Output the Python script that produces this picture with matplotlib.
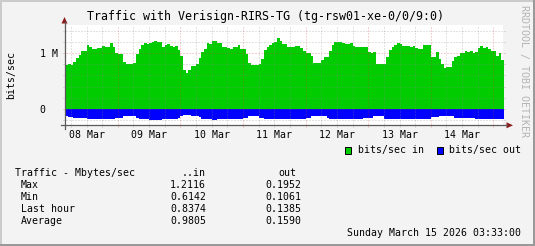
import numpy as np
import matplotlib.pyplot as plt
from matplotlib.patches import Rectangle, Polygon
from matplotlib.lines import Line2D

# hourly buckets, first one = 08 Mar 03:00, values in axis units (M)
traffic_in = [
    0.78, 0.78, 0.81, 0.78, 0.85, 0.92, 0.97, 1.04, 1.04, 1.15, 1.11, 1.08,
    1.07, 1.10, 1.10, 1.13, 1.11, 1.11, 1.19, 1.11, 1.01, 0.99, 0.99, 0.84,
    0.80, 0.80, 0.80, 0.83, 0.98, 1.08, 1.15, 1.19, 1.17, 1.19, 1.20, 1.22,
    1.20, 1.20, 1.11, 1.15, 1.17, 1.13, 1.12, 1.14, 1.06, 0.95, 0.70, 0.65,
    0.70, 0.77, 0.77, 0.81, 0.92, 1.02, 1.08, 1.18, 1.16, 1.22, 1.22, 1.19,
    1.19, 1.11, 1.11, 1.10, 1.07, 1.11, 1.11, 1.15, 1.07, 1.07, 0.98, 0.83,
    0.78, 0.78, 0.78, 0.81, 0.90, 1.06, 1.11, 1.15, 1.19, 1.21, 1.27, 1.23,
    1.17, 1.17, 1.12, 1.12, 1.12, 1.13, 1.13, 1.09, 1.04, 1.00, 1.00, 0.96,
    0.82, 0.82, 0.82, 0.88, 0.94, 0.94, 1.04, 1.15, 1.20, 1.20, 1.20, 1.18,
    1.17, 1.17, 1.18, 1.13, 1.12, 1.12, 1.12, 1.12, 1.12, 1.02, 1.00, 1.02,
    0.81, 0.81, 0.81, 0.81, 0.94, 1.06, 1.11, 1.15, 1.18, 1.16, 1.14, 1.14,
    1.13, 1.12, 1.14, 1.10, 1.08, 1.08, 1.15, 1.15, 1.15, 0.94, 0.94, 1.02,
    0.90, 0.81, 0.73, 0.76, 0.76, 0.86, 0.94, 0.96, 1.00, 1.00, 1.04, 1.02,
    1.04, 1.00, 1.02, 1.10, 1.13, 1.10, 1.11, 1.08, 1.04, 1.04, 0.95, 1.00,
    0.88,
]
traffic_out = [
    0.13, 0.13, 0.15, 0.15, 0.16, 0.16, 0.17, 0.17, 0.17, 0.19, 0.19, 0.18,
    0.18, 0.19, 0.19, 0.19, 0.19, 0.19, 0.19, 0.19, 0.16, 0.16, 0.16, 0.13,
    0.13, 0.13, 0.13, 0.13, 0.16, 0.18, 0.18, 0.18, 0.18, 0.20, 0.20, 0.20,
    0.20, 0.20, 0.19, 0.19, 0.19, 0.19, 0.19, 0.19, 0.16, 0.13, 0.11, 0.11,
    0.11, 0.13, 0.13, 0.14, 0.15, 0.18, 0.18, 0.19, 0.19, 0.20, 0.20, 0.19,
    0.19, 0.19, 0.19, 0.19, 0.19, 0.19, 0.19, 0.19, 0.19, 0.17, 0.17, 0.13,
    0.13, 0.13, 0.13, 0.16, 0.16, 0.19, 0.19, 0.19, 0.19, 0.19, 0.19, 0.19,
    0.19, 0.19, 0.19, 0.19, 0.19, 0.18, 0.18, 0.18, 0.18, 0.16, 0.16, 0.13,
    0.13, 0.13, 0.13, 0.13, 0.13, 0.16, 0.19, 0.19, 0.19, 0.19, 0.19, 0.19,
    0.19, 0.19, 0.19, 0.19, 0.19, 0.18, 0.18, 0.16, 0.16, 0.16, 0.16, 0.14,
    0.14, 0.14, 0.14, 0.18, 0.18, 0.18, 0.18, 0.18, 0.18, 0.18, 0.18, 0.18,
    0.18, 0.18, 0.18, 0.18, 0.18, 0.18, 0.18, 0.18, 0.18, 0.15, 0.15, 0.15,
    0.13, 0.13, 0.13, 0.13, 0.13, 0.13, 0.16, 0.16, 0.16, 0.16, 0.16, 0.16,
    0.16, 0.16, 0.19, 0.19, 0.19, 0.19, 0.19, 0.18, 0.18, 0.18, 0.18, 0.18,
    0.18,
]

day_labels = ['08 Mar', '09 Mar', '10 Mar', '11 Mar', '12 Mar', '13 Mar', '14 Mar']
y_ticks = [0, 1]
y_tick_labels = ['0  ', '1 M']

stat_names = ['Max', 'Min', 'Last hour', 'Average']
stat_in = ['1.2116', '0.6142', '0.8374', '0.9805']
stat_out = ['0.1952', '0.1061', '0.1385', '0.1590']

title = 'Traffic with Verisign-RIRS-TG (tg-rsw01-xe-0/0/9:0)'
stamp = 'Sunday March 15 2026 03:33:00'

W, H = 535, 246
def fx(x):
    return x / W
def fy(y):
    return 1 - y / H

mono = 'DejaVu Sans Mono'
fs = 7.1
grey_grid = '#8C8C8C'
red_grid = '#C83C3C'

fig = plt.figure(figsize=(W / 100, H / 100), dpi=100, facecolor='#F3F3F3')
ax = fig.add_axes([fx(64.5), fy(125.3), (502.7 - 64.5) / W, (125.3 - 24.7) / H])
ax.set_facecolor('white')

# time axis in hours since 08 Mar 00:00, window 03:33 + 7 days
t0 = 3 + 33 / 60
t1 = t0 + 7 * 24
hours = np.arange(3, 3 + len(traffic_in) + 1)
vin = np.append(traffic_in, traffic_in[-1])
vout = -np.append(traffic_out, traffic_out[-1])
ax.fill_between(hours, 0, vin, step='post', color='#00CC00', lw=0, zorder=2)
ax.fill_between(hours, 0, vout, step='post', color='#0000FF', lw=0, zorder=2)
ax.set_xlim(t0, t1)
ax.set_ylim(-0.30, 1.516)

# grid (on top, like rrdtool), sticking out 2px each side
ex = 2 / 438.2
ey = 2 / 100.6
dots = (0, (1, 2))
for y in np.arange(-0.2, 1.5, 0.2):
    major = abs(y) < 1e-6 or abs(y - 1) < 1e-6
    ax.axhline(y, xmin=-ex, xmax=1 + ex, color=red_grid if major else grey_grid,
               lw=0.72, ls=dots, alpha=0.45 if major else 0.5, zorder=3, clip_on=False)
for h in range(6, int(t1) + 1, 6):
    major = h % 24 == 0
    ax.axvline(h, ymin=-ey, ymax=1, color=red_grid if major else grey_grid,
               lw=0.72, ls=dots, alpha=0.45 if major else 0.5, zorder=3, clip_on=False)

for s in ax.spines.values():
    s.set_visible(False)

ax.set_yticks(y_ticks)
ax.set_yticklabels(y_tick_labels, family=mono, fontsize=fs)
ax.set_xticks([12 + 24 * i for i in range(len(day_labels))])
ax.set_xticklabels(day_labels, family=mono, fontsize=fs)
ax.tick_params(axis='y', length=0, pad=4.4)
ax.tick_params(axis='x', length=0, pad=3.2)

# axis lines with arrows
axis_c = '#5A5A5A'
arrow_c = '#8B1A1A'
fig.add_artist(Line2D([fx(64.5), fx(64.5)], [fy(128.5), fy(22)], color=axis_c, lw=0.9))
fig.add_artist(Line2D([fx(61), fx(507)], [fy(125.3), fy(125.3)], color=axis_c, lw=0.9))
fig.add_artist(Polygon([[fx(61.5), fy(23.5)], [fx(67.5), fy(23.5)], [fx(64.5), fy(17)]],
                       closed=True, color=arrow_c, lw=0))
fig.add_artist(Polygon([[fx(506.5), fy(122.3)], [fx(506.5), fy(128.3)], [fx(513), fy(125.3)]],
                       closed=True, color=arrow_c, lw=0))

fig.text(fx(265.4), fy(16.7), title, family=mono, fontsize=8.4, ha='center', va='center')
fig.text(fx(11), fy(75), 'bits/sec', family=mono, fontsize=fs, rotation=90,
         ha='center', va='center')
fig.text(fx(523.5), fy(71), 'RRDTOOL / TOBI OETIKER', family=mono, fontsize=7.2,
         rotation=270, ha='center', va='center', color='#B4B4B4')

# legend
fig.add_artist(Rectangle((fx(344.5), fy(153.5)), 6.5 / W, 6.5 / H,
                         facecolor='#00CC00', edgecolor='black', lw=0.7))
fig.text(fx(357.7), fy(150), 'bits/sec in', family=mono, fontsize=fs, va='center')
fig.add_artist(Rectangle((fx(436.8), fy(153.5)), 6.5 / W, 6.5 / H,
                         facecolor='#0000FF', edgecolor='black', lw=0.7))
fig.text(fx(449.3), fy(150), 'bits/sec out', family=mono, fontsize=fs, va='center')

# stats block
fig.text(fx(15), fy(173.5), 'Traffic - Mbytes/sec', family=mono, fontsize=fs, va='center')
fig.text(fx(206), fy(173.5), '..in', family=mono, fontsize=fs, va='center', ha='right')
fig.text(fx(278.3), fy(173.5), 'out', family=mono, fontsize=fs, va='center')
row_y = [185.2, 197.3, 209.5, 221.4]
for name, vi, vo, y in zip(stat_names, stat_in, stat_out, row_y):
    fig.text(fx(20.7), fy(y), name, family=mono, fontsize=fs, va='center')
    fig.text(fx(206), fy(y), vi, family=mono, fontsize=fs, va='center', ha='right')
    fig.text(fx(265), fy(y), vo, family=mono, fontsize=fs, va='center')
fig.text(fx(521), fy(233.3), stamp, family=mono, fontsize=fs, va='center', ha='right')

# 3d-ish frame
fig.add_artist(Rectangle((0, 0), 2 / W, 1, color='#CBCBCB', lw=0))
fig.add_artist(Rectangle((0, 1 - 2 / H), 1, 2 / H, color='#CBCBCB', lw=0))
fig.add_artist(Rectangle((1 - 2 / W, 0), 2 / W, 1, color='#999999', lw=0))
fig.add_artist(Rectangle((0, 0), 1, 2 / H, color='#999999', lw=0))

fig.savefig('out.png', dpi=100, facecolor=fig.get_facecolor())
